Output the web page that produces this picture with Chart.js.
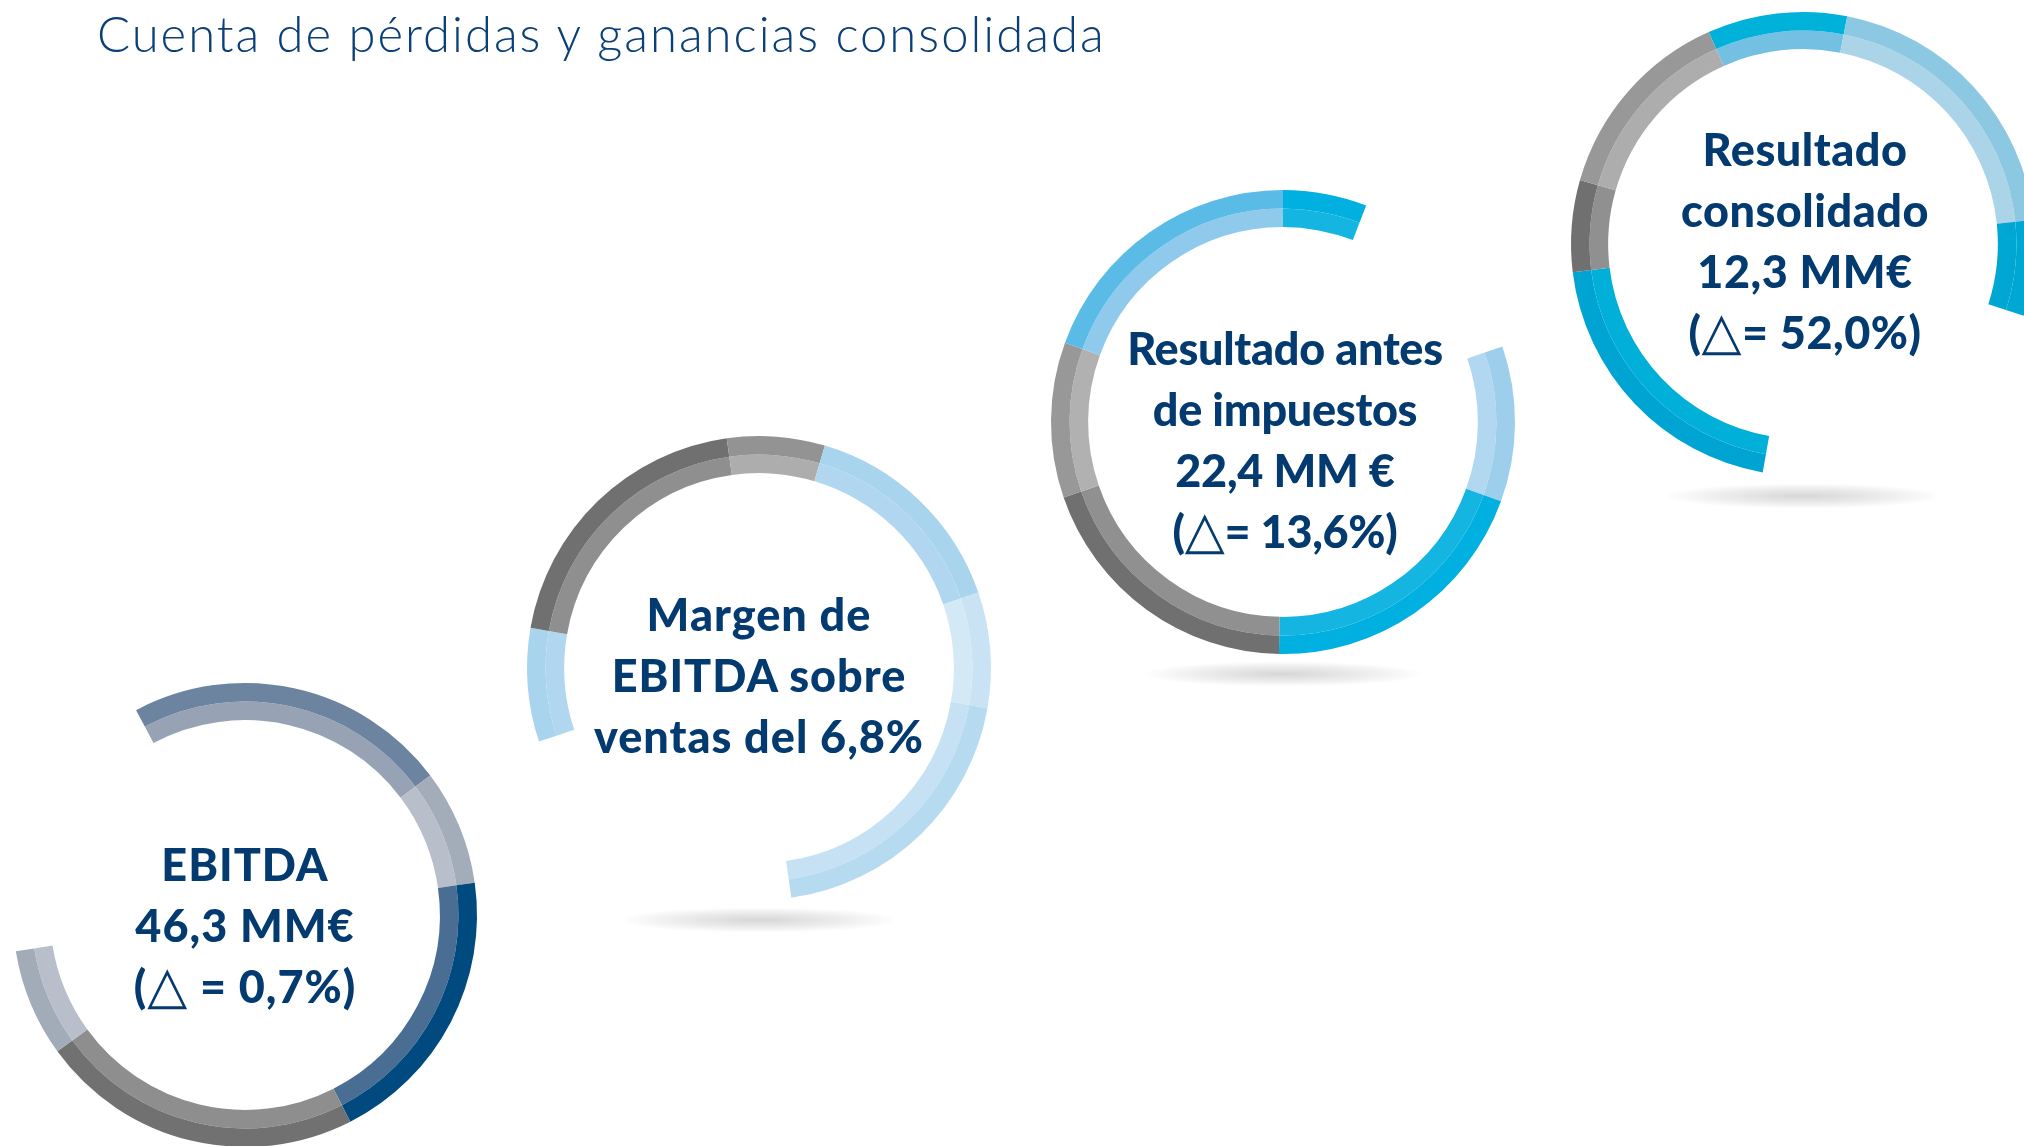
<!DOCTYPE html>
<html lang="es">
<head>
<meta charset="utf-8">
<title>Cuenta de pérdidas y ganancias consolidada</title>
<script src="https://cdn.jsdelivr.net/npm/chart.js@4.4.1/dist/chart.umd.min.js"></script>
<style>
  html, body { margin: 0; padding: 0; background: #fff; }
  body { width: 2024px; height: 1146px; position: relative; overflow: hidden; font-family: Lato, "Noto Sans", sans-serif; }
  h1 { position: absolute; left: 97px; top: 0; margin: 0; font-weight: 300; font-size: 49px; line-height: 66px; color: #0b3f78; letter-spacing: 2px; white-space: nowrap; }
  .ring { position: absolute; width: 600px; height: 600px; }
  .label { position: absolute; width: 420px; text-align: center; color: #033a6f; font-weight: 900; font-size: 45px; line-height: 61px; letter-spacing: 1px; white-space: nowrap; }
  .tri { font-family: "DejaVu Sans", sans-serif; font-weight: 400; font-size: 52px; line-height: 40px; }
</style>
</head>
<body>
<h1>Cuenta de pérdidas y ganancias consolidada</h1>

<canvas id="ring1" class="ring" width="600" height="600" style="left:-55px; top:615px;"></canvas>
<canvas id="ring2" class="ring" width="600" height="600" style="left:459px; top:368px;"></canvas>
<canvas id="ring3" class="ring" width="600" height="600" style="left:983px; top:122px;"></canvas>
<canvas id="ring4" class="ring" width="600" height="600" style="left:1503px; top:-56px;"></canvas>

<div class="label" style="left:35px; top:834px;">EBITDA<br>46,3 MM€<br>(<span class="tri">△</span> = 0,7%)</div>
<div class="label" style="left:549px; top:584px;">Margen de<br>EBITDA sobre<br>ventas del 6,8%</div>
<div class="label" style="left:1075px; top:318px; letter-spacing:-0.3px;">Resultado antes<br>de impuestos<br>22,4 MM €<br>(<span class="tri">△</span>= 13,6%)</div>
<div class="label" style="left:1595px; top:119px; letter-spacing:0.5px;">Resultado<br>consolidado<br>12,3 MM€<br>(<span class="tri">△</span>= 52,0%)</div>

<script>
// Arc lengths in degrees, clockwise from each ring's start angle; null = open gap
const ring1Start = -28;
const ring1Spans = [81, 29, 71, 81, 27, 71];
const ring1Outer = ['#6d84a0', '#a3adba', '#004a80', '#717171', '#a2acb8', null];
const ring1Inner = ['#97a3b5', '#b8bfcb', '#4a6d93', '#8e8e8e', '#b8bfcb', null];

const ring2Start = 251.5;
const ring2Spans = [28.5, 72, 24.5, 54.5, 29, 72, 79.5];
const ring2Outer = ['#a8d4ee', '#707070', '#939393', '#a8d4ee', '#c9e3f4', '#b6daf0', null];
const ring2Inner = ['#b1d7f0', '#8f8f8f', '#adadad', '#b1d7f0', '#d4e9f6', '#c5e1f3', null];

const ring3Start = 0;
const ring3Spans = [21, 50, 39, 71, 70, 39, 70];
const ring3Outer = ['#00b0e0', null, '#9dcfec', '#00b0e0', '#707070', '#989898', '#5abce6'];
const ring3Inner = ['#14b5e1', null, '#b1d8f0', '#14b5e1', '#909090', '#b1b1b1', '#8fc9ec'];

const ring4Start = -24;
const ring4Spans = [35, 73, 24, 82, 73, 23, 50];
const ring4Outer = ['#00b2da', '#8cc8e2', '#00a7d2', null, '#00a4d2', '#707070', '#989898'];
const ring4Inner = ['#74c0e2', '#acd4e8', '#00a7d2', null, '#00b0d8', '#909090', '#adadad'];

// soft floor shadow under each ring
const floorShadow = {
    id: 'floorShadow',
    beforeDatasetsDraw(chart, args, opts) {
        if (!opts.show) return;
        const ctx = chart.ctx;
        const a = chart.chartArea;
        const cx = (a.left + a.right) / 2;
        const cy = (a.top + a.bottom) / 2 + 252;
        ctx.save();
        ctx.translate(cx, cy);
        ctx.scale(1, 0.09);
        const g = ctx.createRadialGradient(0, 0, 0, 0, 0, 140);
        g.addColorStop(0, 'rgba(0,0,0,0.16)');
        g.addColorStop(0.6, 'rgba(0,0,0,0.07)');
        g.addColorStop(1, 'rgba(0,0,0,0)');
        ctx.fillStyle = g;
        ctx.beginPath();
        ctx.arc(0, 0, 140, 0, Math.PI * 2);
        ctx.fill();
        ctx.restore();
    }
};

function makeRing(id, start, spans, outer, inner, shadow) {
    const fill = c => c || 'rgba(0,0,0,0)';
    new Chart(document.getElementById(id), {
        type: 'doughnut',
        data: {
            labels: spans.map((s, i) => 'tramo ' + (i + 1)),
            datasets: [
                { data: spans, backgroundColor: outer.map(fill), borderWidth: 0 },
                { data: spans, backgroundColor: inner.map(fill), borderWidth: 0 }
            ]
        },
        options: {
            responsive: false,
            animation: false,
            rotation: start,
            radius: 232,
            cutout: '84%',
            layout: { padding: 0 },
            plugins: {
                legend: { display: false },
                tooltip: { enabled: false },
                floorShadow: { show: shadow }
            }
        },
        plugins: [floorShadow]
    });
}

makeRing('ring1', ring1Start, ring1Spans, ring1Outer, ring1Inner, false);
makeRing('ring2', ring2Start, ring2Spans, ring2Outer, ring2Inner, true);
makeRing('ring3', ring3Start, ring3Spans, ring3Outer, ring3Inner, true);
makeRing('ring4', ring4Start, ring4Spans, ring4Outer, ring4Inner, true);
</script>
</body>
</html>
